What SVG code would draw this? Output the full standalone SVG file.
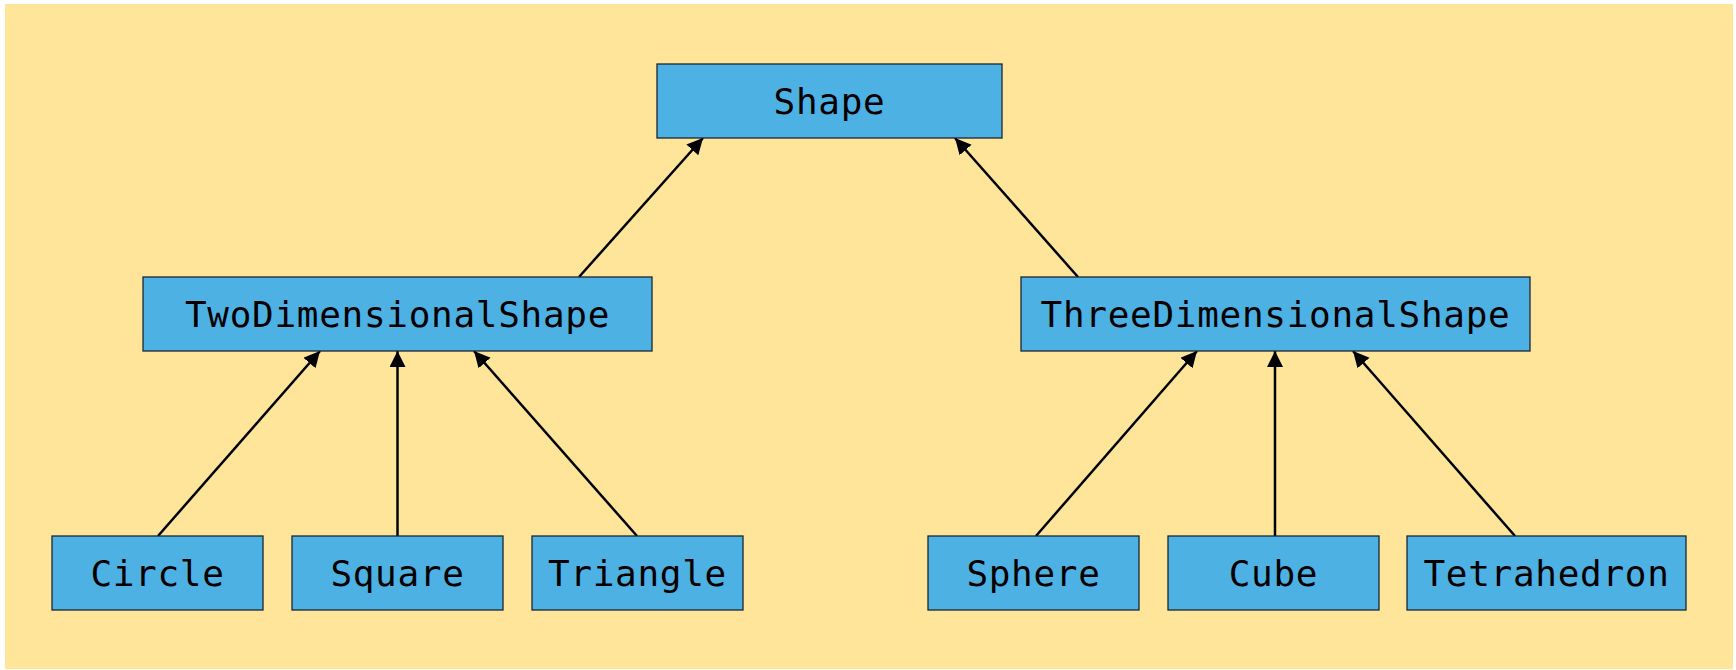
<svg xmlns="http://www.w3.org/2000/svg" width="1736" height="670" viewBox="0 0 1736 670">
<style>
.node rect{fill:#4DB1E4;stroke:#1A2633;stroke-width:1.3}
.node text{font-family:"DejaVu Sans Mono","Liberation Mono",monospace;font-size:36px;letter-spacing:0.7px;fill:#000;text-anchor:middle}
.edge{stroke:#000;stroke-width:2.5;fill:none;marker-end:url(#arr)}
</style>
<defs>
<marker id="arr" markerUnits="userSpaceOnUse" markerWidth="17" markerHeight="17" refX="16" refY="8" orient="auto">
<path d="M0,0 L16,8 L0,16 z" fill="#000"/>
</marker>
</defs>
<rect x="5" y="4" width="1728" height="665" fill="#FFE599"/>
<g id="connectors">
<line class="edge" x1="579" y1="277" x2="703" y2="138"/>
<line class="edge" x1="1078" y1="277" x2="955" y2="138"/>
<line class="edge" x1="158" y1="536" x2="320" y2="351"/>
<line class="edge" x1="397.5" y1="536" x2="397.5" y2="351"/>
<line class="edge" x1="637" y1="536" x2="474" y2="351"/>
<line class="edge" x1="1036" y1="536" x2="1197" y2="351"/>
<line class="edge" x1="1275" y1="536" x2="1275" y2="351"/>
<line class="edge" x1="1515" y1="536" x2="1353" y2="351"/>
</g>
<g id="shape" class="node"><rect x="657" y="64" width="345" height="74"/><text x="829.5" y="114">Shape</text></g>
<g id="twodim" class="node"><rect x="143" y="277" width="509" height="74"/><text x="397.5" y="327">TwoDimensionalShape</text></g>
<g id="threedim" class="node"><rect x="1021" y="277" width="509" height="74"/><text x="1275.5" y="327">ThreeDimensionalShape</text></g>
<g id="circle" class="node"><rect x="52" y="536" width="211" height="74"/><text x="157.5" y="586">Circle</text></g>
<g id="square" class="node"><rect x="292" y="536" width="211" height="74"/><text x="397.5" y="586">Square</text></g>
<g id="triangle" class="node"><rect x="532" y="536" width="211" height="74"/><text x="637.5" y="586">Triangle</text></g>
<g id="sphere" class="node"><rect x="928" y="536" width="211" height="74"/><text x="1033.5" y="586">Sphere</text></g>
<g id="cube" class="node"><rect x="1168" y="536" width="211" height="74"/><text x="1273.5" y="586">Cube</text></g>
<g id="tetrahedron" class="node"><rect x="1407" y="536" width="279" height="74"/><text x="1546.5" y="586">Tetrahedron</text></g>
</svg>
